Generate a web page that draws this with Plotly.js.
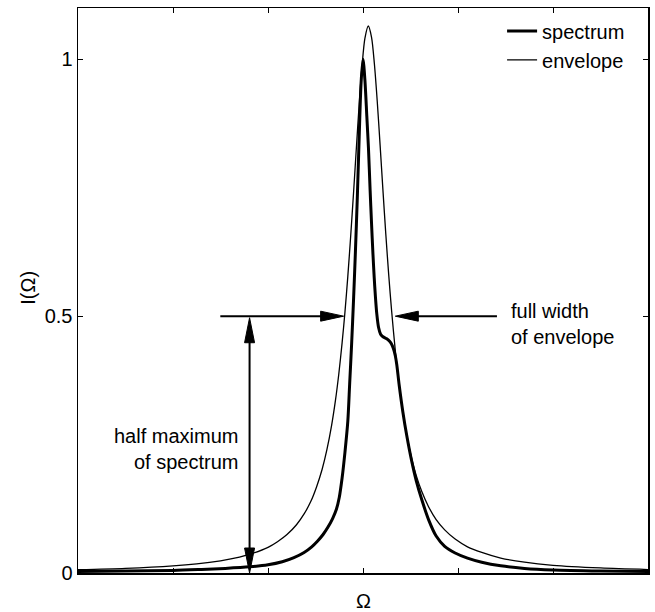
<!DOCTYPE html>
<html>
<head>
<meta charset="utf-8">
<script src="https://cdn.plot.ly/plotly-3.0.1.min.js"></script>
<style>html,body{margin:0;padding:0;background:#fff;}#chart{width:655px;height:612px;}</style>
</head>
<body>
<div id="chart"></div>
<script>
// Spectrum (thick line)
const spectrumX = [-3.0, -2.5, -2.0, -1.7, -1.45, -1.19, -1.0, -0.85, -0.727, -0.62, -0.54, -0.48, -0.42, -0.37, -0.32, -0.28, -0.25, -0.22, -0.19, -0.16, -0.14, -0.12, -0.1, -0.08, -0.06, -0.04, -0.02, 0.0,
  0.02, 0.04, 0.058, 0.075, 0.09, 0.105, 0.118, 0.13, 0.145, 0.164, 0.185, 0.21, 0.25, 0.28, 0.30, 0.32, 0.34, 0.356, 0.38, 0.42, 0.46, 0.51, 0.56, 0.62, 0.69, 0.77, 0.86, 0.97, 1.1, 1.25, 1.45, 1.7, 2.0, 2.5, 3.0];
const spectrumY = [0.003, 0.004, 0.005, 0.007, 0.009, 0.012, 0.016, 0.022, 0.030, 0.040, 0.051, 0.062, 0.075, 0.089, 0.106, 0.124, 0.147, 0.185, 0.235, 0.295, 0.37, 0.445, 0.53, 0.625, 0.73, 0.85, 0.955, 1.0,
  0.96, 0.89, 0.825, 0.745, 0.68, 0.62, 0.575, 0.54, 0.505, 0.478, 0.465, 0.46, 0.456, 0.451, 0.446, 0.437, 0.423, 0.405, 0.367, 0.313, 0.268, 0.22, 0.18, 0.142, 0.104, 0.072, 0.052, 0.039, 0.029, 0.021, 0.014, 0.009, 0.006, 0.004, 0.003];

// Envelope (thin line)
const envelopeX = [-3.0, -2.5, -2.0, -1.75, -1.5, -1.3, -1.15, -1.0, -0.9, -0.8, -0.7, -0.62, -0.55, -0.49, -0.43, -0.38, -0.33, -0.29, -0.255, -0.22, -0.19, -0.16, -0.13, -0.1, -0.07, -0.04, -0.01, 0.02, 0.056,
  0.09, 0.12, 0.15, 0.18, 0.21, 0.24, 0.27, 0.30, 0.34, 0.38, 0.42, 0.46, 0.51, 0.56, 0.62, 0.69, 0.77, 0.86, 0.97, 1.1, 1.25, 1.45, 1.7, 2.0, 2.5, 3.0];
const envelopeY = [0.0063, 0.0089, 0.0137, 0.0177, 0.0238, 0.031, 0.039, 0.050, 0.061, 0.075, 0.094, 0.115, 0.139, 0.167, 0.202, 0.240, 0.288, 0.336, 0.387, 0.448, 0.508, 0.577, 0.655, 0.739, 0.827, 0.913, 0.987, 1.041, 1.065,
  1.043, 0.991, 0.918, 0.833, 0.745, 0.660, 0.582, 0.513, 0.433, 0.367, 0.313, 0.269, 0.225, 0.190, 0.158, 0.129, 0.104, 0.084, 0.066, 0.051, 0.040, 0.029, 0.021, 0.015, 0.0098, 0.0067];

const seriesNames = ['spectrum', 'envelope'];
const yTickVals = [0, 0.5, 1];
const yTickText = ['0', '0.5', '1'];
const xTickVals = [-2, -1, 0, 1, 2];
const xTitle = 'Ω';
const yTitle = 'I(Ω)';

// annotation positions (data units)
const halfMax = 0.5;
const leftArrowStart = -1.502, leftArrowTip = -0.204;
const rightArrowStart = 1.41, rightArrowTip = 0.340;
const vArrowX = -1.194, vArrowTop = 0.497;

const FONT = 'Liberation Sans, Arial, Helvetica, sans-serif';
const txtFont = {family: FONT, size: 20, color: '#000'};

const traces = [
  {x: spectrumX, y: spectrumY, name: seriesNames[0], type: 'scatter', mode: 'lines',
   line: {color: '#000', width: 3, shape: 'spline', smoothing: 0.8}},
  {x: envelopeX, y: envelopeY, name: seriesNames[1], type: 'scatter', mode: 'lines',
   line: {color: '#000', width: 1.3, shape: 'spline', smoothing: 0.8}}
];

const lineStyle = {color: '#000', width: 2};
const headStyle = {fillcolor: '#000', line: {color: '#000', width: 1}};

const shapes = [
  {type: 'line', xref: 'x', yref: 'y', x0: leftArrowStart, x1: leftArrowTip - 0.1, y0: halfMax, y1: halfMax, line: lineStyle},
  {type: 'line', xref: 'x', yref: 'y', x0: rightArrowStart, x1: rightArrowTip + 0.1, y0: halfMax, y1: halfMax, line: lineStyle},
  {type: 'line', xref: 'x', yref: 'y', x0: vArrowX, x1: vArrowX, y0: 0.03, y1: vArrowTop - 0.03, line: lineStyle},
  Object.assign({type: 'path', xref: 'x', yref: 'y', xsizemode: 'pixel', ysizemode: 'pixel',
   xanchor: leftArrowTip, yanchor: halfMax, path: 'M0,0 L-23,5 L-23,-5 Z'}, headStyle),
  Object.assign({type: 'path', xref: 'x', yref: 'y', xsizemode: 'pixel', ysizemode: 'pixel',
   xanchor: rightArrowTip, yanchor: halfMax, path: 'M0,0 L23,5 L23,-5 Z'}, headStyle),
  Object.assign({type: 'path', xref: 'x', yref: 'y', xsizemode: 'pixel', ysizemode: 'pixel',
   xanchor: vArrowX, yanchor: vArrowTop, path: 'M0,0 L-5,-25 L5,-25 Z'}, headStyle),
  Object.assign({type: 'path', xref: 'x', yref: 'y', xsizemode: 'pixel', ysizemode: 'pixel',
   xanchor: vArrowX, yanchor: 0, path: 'M0,0 L-5,25 L5,25 Z'}, headStyle)
];

const annotations = [
  {xref: 'x', yref: 'y', x: 1.54, y: 0.485, text: 'full width<br>of envelope', showarrow: false,
   xanchor: 'left', yanchor: 'middle', align: 'left', font: txtFont},
  {xref: 'x', yref: 'y', x: -1.30, y: 0.242, text: 'half maximum<br>of spectrum', showarrow: false,
   xanchor: 'right', yanchor: 'middle', align: 'right', font: txtFont},
  // axis titles
  {xref: 'paper', yref: 'paper', x: 0.5, y: -0.027, text: xTitle, showarrow: false,
   xanchor: 'center', yanchor: 'top', font: txtFont},
  {xref: 'paper', yref: 'paper', x: -0.0877, y: 0.505, text: yTitle, showarrow: false, textangle: -90,
   xanchor: 'center', yanchor: 'middle', font: txtFont}
];

const layout = {
  width: 655, height: 612,
  margin: {l: 78, r: 7, t: 8, b: 39},
  paper_bgcolor: '#fff', plot_bgcolor: '#fff',
  font: txtFont,
  showlegend: true,
  legend: {x: 0.744, xanchor: 'left', y: 0.994, yanchor: 'top', bgcolor: 'rgba(0,0,0,0)',
           font: txtFont, tracegroupgap: 0},
  xaxis: {range: [-3, 3], tickvals: xTickVals, showticklabels: false, ticks: 'inside', ticklen: 5,
          tickwidth: 1, tickcolor: '#000', showline: true, linecolor: '#000', linewidth: 1.5,
          mirror: 'ticks', showgrid: false, zeroline: false},
  yaxis: {range: [0, 1.1], tickvals: yTickVals, ticktext: yTickText, ticks: 'inside', ticklen: 5,
          tickwidth: 1, tickcolor: '#000', showline: true, linecolor: '#000', linewidth: 1.5,
          mirror: 'ticks', showgrid: false, zeroline: false, tickfont: txtFont},
  shapes: shapes,
  annotations: annotations
};

Plotly.newPlot('chart', traces, layout, {displayModeBar: false, staticPlot: true});
</script>
</body>
</html>
